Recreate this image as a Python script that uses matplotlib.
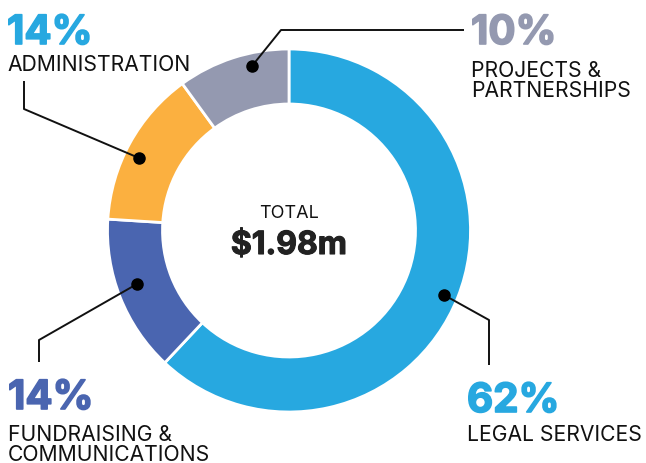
import matplotlib
matplotlib.use("Agg")
import matplotlib.pyplot as plt
import matplotlib.patheffects as pe

plt.rcParams['font.family'] = ['Inter', 'DejaVu Sans']

categories = ["LEGAL SERVICES", "FUNDRAISING &\nCOMMUNICATIONS", "ADMINISTRATION", "PROJECTS &\nPARTNERSHIPS"]
values = [62, 14, 14, 10]
colors = ["#27A8E0", "#4A65B0", "#FBB040", "#9499B0"]
pct_colors = ["#27A8E0", "#4A65B0", "#27A8E0", "#9499B0"]
total_label = "TOTAL"
total_value = "$1.98m"

W, H = 646, 464
fig = plt.figure(figsize=(W / 100, H / 100), dpi=100)
ax = fig.add_axes([0, 0, 1, 1])

def Y(y):
    return H - y

cx, cy, R, width = 289, 231.5, 181.5, 55
ax.pie(values, colors=colors, startangle=90, counterclock=False,
       center=(cx, Y(cy)), radius=R, frame=True,
       wedgeprops=dict(width=width, edgecolor='white', linewidth=2))
ax.set_xlim(0, W)
ax.set_ylim(0, H)
ax.set_aspect('equal')
ax.axis('off')

# leader lines (pixel coordinates)
leaders = [
    [(444, 296), (489, 321), (489, 366)],   # legal
    [(137, 285), (39, 341), (39, 363)],     # fundraising
    [(139, 159), (24, 110), (24, 82)],      # administration
    [(252, 67), (281, 31), (464, 31)],      # projects
]
for pts in leaders:
    xs = [p[0] for p in pts]
    ys = [Y(p[1]) for p in pts]
    ax.plot(xs, ys, color='#111111', lw=1.4, solid_capstyle='butt', zorder=5)
    ax.plot(xs[0], ys[0], 'o', color='#000000', ms=8, zorder=6)

# label positions: (x, pct baseline, first text baseline)
label_pos = [
    (467, 413, 441),
    (8, 410, 441),
    (7, 45, 71),
    (471, 45, 77),
]
for i, (x, yb, tb) in enumerate(label_pos):
    ax.text(x, Y(yb), f"{values[i]}%", fontsize=29, fontweight='bold',
            color=pct_colors[i], ha='left', va='baseline',
            path_effects=[pe.withStroke(linewidth=1.2, foreground=pct_colors[i])])
    for j, line in enumerate(categories[i].split("\n")):
        ax.text(x, Y(tb + 20 * j), line, fontsize=15.2, color='#111111',
                ha='left', va='baseline')

ax.text(cx, Y(218), total_label, fontsize=13, color='#111111', ha='center', va='baseline')
ax.text(cx, Y(255), total_value, fontsize=23, fontweight='bold', color='#222222',
        ha='center', va='baseline',
        path_effects=[pe.withStroke(linewidth=0.8, foreground='#222222')])

fig.savefig("out.png", dpi=100)
